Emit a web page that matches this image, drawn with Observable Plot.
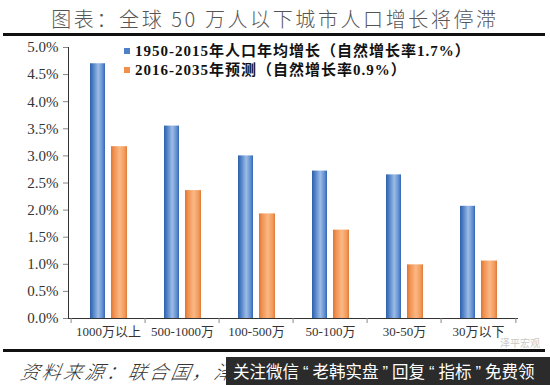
<!DOCTYPE html>
<html>
<head>
<meta charset="utf-8">
<script src="https://cdn.jsdelivr.net/npm/d3@7"></script>
<script src="https://cdn.jsdelivr.net/npm/@observablehq/plot@0.6"></script>
<style>
  html, body { margin: 0; padding: 0; background: #fff; }
  #wrap { position: relative; width: 550px; height: 385px; overflow: hidden; background: #fff; }
  .abs { position: absolute; }
  #title { left: 0; top: 6px; width: 550px; text-align: center; font-family: "Noto Sans CJK SC", sans-serif; font-weight: 300; font-size: 20px; letter-spacing: 2.6px; color: #555; line-height: 26px; white-space: nowrap; }
  .hline { left: 3px; width: 542px; height: 3px; background: #111; }
  #chart { left: 0; top: 37px; }
  .leg { left: 124px; font-family: "Liberation Serif", "Noto Sans CJK SC", serif; font-weight: bold; font-size: 15px; letter-spacing: 1px; color: #111; white-space: nowrap; line-height: 18px; }
  .leg i { display: inline-block; width: 6px; height: 6px; margin-right: 5px; vertical-align: 2px; }
  #source { left: 21px; top: 358px; font-family: "Noto Sans CJK SC", sans-serif; font-style: italic; font-weight: 300; font-size: 19px; letter-spacing: 2.5px; color: #333; white-space: nowrap; line-height: 26px; transform: skewX(-10deg); }
  #banner { left: 226px; top: 357px; width: 324px; height: 28px; background: #2b2b2b; color: #fff; font-family: "Noto Sans CJK SC", sans-serif; font-size: 16.5px; line-height: 28px; white-space: nowrap; padding-left: 7px; box-sizing: border-box; }
  #banner .q { font-family: "Liberation Sans", sans-serif; padding: 0 4px; }
  #wm { left: 500px; top: 337px; font-family: "Noto Sans CJK SC", sans-serif; font-size: 10px; line-height: 12px; color: #c8c8c8; white-space: nowrap; }
</style>
</head>
<body>
<div id="wrap">
  <div id="title" class="abs">图表：全球 50 万人以下城市人口增长将停滞</div>
  <div class="abs hline" style="top:33px"></div>
  <div id="chart" class="abs"></div>
  <div class="abs leg" style="top:42px"><i style="background:#4f81c7"></i>1950-2015年人口年均增长（自然增长率1.7%）</div>
  <div class="abs leg" style="top:61px"><i style="background:#f0904a"></i>2016-2035年预测（自然增长率0.9%）</div>
  <div id="wm" class="abs">泽平宏观</div>
  <div class="abs hline" style="top:349px"></div>
  <div id="source" class="abs">资料来源：联合国，泽平宏观</div>
  <div id="banner" class="abs">关注微信<span class="q">“</span>老韩实盘<span class="q">”</span>回复<span class="q">“</span>指标<span class="q">”</span>免费领</div>
</div>
<script>
const categories = ["1000万以上", "500-1000万", "100-500万", "50-100万", "30-50万", "30万以下"];
const seriesNames = ["1950-2015年人口年均增长（自然增长率1.7%）", "2016-2035年预测（自然增长率0.9%）"];
const hist = [4.70, 3.55, 3.00, 2.72, 2.65, 2.07];
const proj = [3.17, 2.36, 1.93, 1.63, 0.99, 1.06];
const yTicks = [0, 0.5, 1.0, 1.5, 2.0, 2.5, 3.0, 3.5, 4.0, 4.5, 5.0];

const histData = categories.map((c, i) => ({cat: c, v: hist[i], s: seriesNames[0]}));
const projData = categories.map((c, i) => ({cat: c, v: proj[i], s: seriesNames[1]}));

const chart = Plot.plot({
  width: 550,
  height: 310,
  marginLeft: 68,
  marginRight: 33,
  marginTop: 10,
  marginBottom: 29,
  style: {fontFamily: "'Liberation Serif', 'Noto Sans CJK SC', serif", color: "#333", background: "transparent", overflow: "visible"},
  x: {domain: categories, padding: 0, label: null, tickSize: 0, tickPadding: 8, line: true, fontSize: 13},
  y: {domain: [0, 5], ticks: yTicks, tickFormat: d => d.toFixed(1) + "%", label: null, tickSize: 5, tickPadding: 5, line: true},
  marks: [
    Plot.barY(histData, {x: "cat", y: "v", fill: "url(#gBlue)", insetLeft: 19, insetRight: 40}),
    Plot.barY(projData, {x: "cat", y: "v", fill: "url(#gOrange)", insetLeft: 40, insetRight: 18}),
    Plot.ruleX(categories, {x: d => d, y1: 0, y2: 0, dx: -37.4, insetBottom: -5, stroke: "#888"}),
    Plot.ruleX(categories.slice(-1), {x: d => d, y1: 0, y2: 0, dx: 37.4, insetBottom: -5, stroke: "#888"})
  ]
});

const svg = d3.select(chart);
svg.insert("defs", ":first-child").html(`
  <linearGradient id="gBlue" x1="0" x2="1" y1="0" y2="0">
    <stop offset="0" stop-color="#2e5fa8"/>
    <stop offset="0.18" stop-color="#4a7cc4"/>
    <stop offset="0.55" stop-color="#9dbce6"/>
    <stop offset="0.85" stop-color="#5d8dd0"/>
    <stop offset="1" stop-color="#3465b0"/>
  </linearGradient>
  <linearGradient id="gOrange" x1="0" x2="1" y1="0" y2="0">
    <stop offset="0" stop-color="#de7530"/>
    <stop offset="0.18" stop-color="#ef9150"/>
    <stop offset="0.55" stop-color="#fbb884"/>
    <stop offset="0.85" stop-color="#f19a5c"/>
    <stop offset="1" stop-color="#e07a36"/>
  </linearGradient>`);
svg.selectAll("[aria-label='y-axis tick label'], [aria-label='y-axis'] text").style("font-size", "15px");
svg.selectAll("[aria-label='x-axis tick label'], [aria-label='x-axis'] text").style("font-size", "13px");
svg.selectAll("[aria-label*='axis'] line, [aria-label*='axis'] path").attr("stroke", "#888");
document.getElementById("chart").appendChild(chart);
</script>
</body>
</html>
